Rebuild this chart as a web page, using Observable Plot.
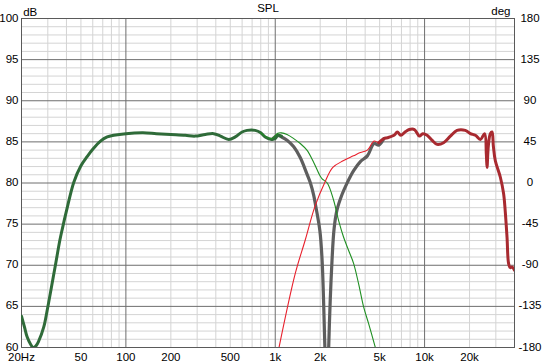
<!DOCTYPE html>
<html><head><meta charset="utf-8">
<script src="https://cdn.jsdelivr.net/npm/d3@7"></script>
<script src="https://cdn.jsdelivr.net/npm/@observablehq/plot@0.6"></script>
<style>body{margin:0;background:#fff}</style>
</head><body><div id="chart"></div>
<script>
// Tick positions and labels
const freqTicks = [20, 50, 100, 200, 500, 1000, 2000, 5000, 10000, 20000];
const freqLabels = ["20Hz", "50", "100", "200", "500", "1k", "2k", "5k", "10k", "20k"];
const majorFreqGrid = [100, 1000, 10000];
const minorFreqGrid = [30, 40, 50, 60, 70, 80, 90, 200, 300, 400, 500, 600, 700, 800, 900,
  2000, 3000, 4000, 5000, 6000, 7000, 8000, 9000, 20000, 30000];
const dbTicks = [60, 65, 70, 75, 80, 85, 90, 95, 100];
const degLabels = ["-180", "-135", "-90", "-45", "0", "45", "90", "135", "180"];
const minorDbGrid = [61, 62, 63, 64, 66, 67, 68, 69, 71, 72, 73, 74, 76, 77, 78, 79,
  81, 82, 83, 84, 86, 87, 88, 89, 91, 92, 93, 94, 96, 97, 98, 99];

// Series: [frequency Hz, SPL dB]
const wooferThick = [[20,63.8],[21,62.4],[21.8,61.3],[23,60.4],[24,60.0],[25,60.2],[26.1,60.8],[28.2,62.5],[29.7,64.5],[31.2,66.6],[33.8,70.1],[36.1,73.0],[37.5,74.4],[40,76.6],[44.8,80.1],[50,82.1],[55,83.2],[60,84.1],[67.6,85.1],[75,85.6],[83,85.8],[100,86.0],[130,86.1],[160,86.0],[200,85.9],[250,85.8],[290,85.7],[340,85.9],[387,86.0],[430,85.7],[488,85.3],[540,85.6],[600,86.2],[648,86.4],[734,86.4],[800,86.1],[856,85.6],[950,85.3],[1000,85.4],[1040,85.8],[1100,85.7]];
const sumThick = [[950,85.3],[1040,85.8],[1100,85.6],[1200,85.2],[1330,84.4],[1470,83.1],[1630,81.1],[1720,80.0],[1810,78.5],[1854,77.5],[1990,74.2],[2060,70.6],[2150,60],[2230,50],[2280,60],[2400,70.6],[2480,74.5],[2590,76.7],[2800,78.6],[3010,79.9],[3350,81.5],[3716,82.6],[4140,83.3],[4590,84.8],[4940,84.6],[5340,85.4]];
const wooferThin = [[800,86.1],[856,85.7],[950,85.4],[1040,86.05],[1100,86.1],[1200,85.9],[1330,85.4],[1470,84.8],[1630,84.0],[1810,82.5],[1990,80.9],[2060,80.5],[2230,80.0],[2460,77.9],[2660,75.4],[2870,73.4],[3100,71.8],[3350,70.2],[3620,67.7],[3910,64.9],[4220,62.9],[4680,60]];
const tweeterThin = [[1060,60],[1362,69.0],[1590,73.1],[1840,77.1],[2150,80.1],[2430,81.9],[2850,82.7],[3340,83.3],[3716,83.7],[4140,84.0],[4590,85.1],[4940,84.9],[5340,85.4]];
const tweeterThick = [[4940,84.9],[5340,85.4],[5630,85.5],[6240,85.8],[6570,86.2],[6930,85.8],[7400,86.2],[7900,86.5],[8550,86.5],[9230,85.7],[9730,86.0],[10400,85.8],[11200,85.2],[12120,84.7],[13410,84.9],[14880,85.7],[16490,86.4],[18740,86.4],[20250,86.0],[21880,85.8],[23620,85.3],[25240,86.0],[25910,83.5],[26190,81.9],[26720,84.5],[27560,86.0],[28290,86.2],[28870,84.5],[29760,82.7],[32160,80.7],[33820,78.7],[34700,76.5],[35650,73.4],[36530,70.2],[37500,69.7],[38500,69.8],[40000,69.4]];

const rows = (arr) => arr.map(([f, db]) => ({f, db}));
const lineOpts = (stroke, w) => ({x: "f", y: "db", stroke, strokeWidth: w, clip: true, curve: "catmull-rom", strokeLinejoin: "round"});

const chart = Plot.plot({
  width: 542, height: 363,
  marginTop: 18, marginBottom: 16, marginLeft: 21, marginRight: 28,
  style: {fontFamily: "'Liberation Sans', Arial, sans-serif", fontSize: "11.5px", background: "#fff", color: "#000"},
  x: {type: "log", domain: [20, 40000], axis: null},
  y: {domain: [60, 100], axis: null},
  marks: [
    Plot.ruleX(minorFreqGrid, {stroke: "#d4d4d4", strokeWidth: 1}),
    Plot.ruleY(minorDbGrid, {stroke: "#d4d4d4", strokeWidth: 1}),
    Plot.ruleX(majorFreqGrid, {stroke: "#6e6e6e", strokeWidth: 1}),
    Plot.ruleY(dbTicks, {stroke: "#6e6e6e", strokeWidth: 1}),
    Plot.frame({stroke: "#5a5a5a"}),
    Plot.line(rows(sumThick), lineOpts("#5e5e5e", 3.2)),
    Plot.line(rows(wooferThick), lineOpts("#2f6b39", 3)),
    Plot.line(rows(wooferThin), lineOpts("#1f8f22", 1.1)),
    Plot.line(rows(tweeterThin), lineOpts("#e8202c", 1.1)),
    Plot.line(rows(tweeterThick), lineOpts("#a82a30", 3)),
    Plot.text(freqTicks, {x: d => d, text: (d, i) => freqLabels[i], frameAnchor: "bottom", lineAnchor: "bottom", dy: 13, fill: "#000"}),
    Plot.text(dbTicks, {y: d => d, text: d => String(d), frameAnchor: "left", textAnchor: "end", dx: -3, lineAnchor: "bottom", dy: 3, fill: "#000"}),
    Plot.text(dbTicks, {y: d => d, text: (d, i) => degLabels[i], frameAnchor: "right", textAnchor: "middle", dx: 15.5, lineAnchor: "bottom", dy: 3, fill: "#000"}),
    Plot.text(["SPL"], {frameAnchor: "top", lineAnchor: "bottom", dy: -6.3, fill: "#000"}),
    Plot.text(["dB"], {frameAnchor: "top-left", textAnchor: "start", lineAnchor: "bottom", dx: 1.7, dy: -3, fill: "#000"}),
    Plot.text(["deg"], {frameAnchor: "top-right", textAnchor: "end", lineAnchor: "bottom", dx: -4, dy: -3.7, fill: "#000"})
  ]
});
document.getElementById("chart").appendChild(chart);
</script>
</body></html>
